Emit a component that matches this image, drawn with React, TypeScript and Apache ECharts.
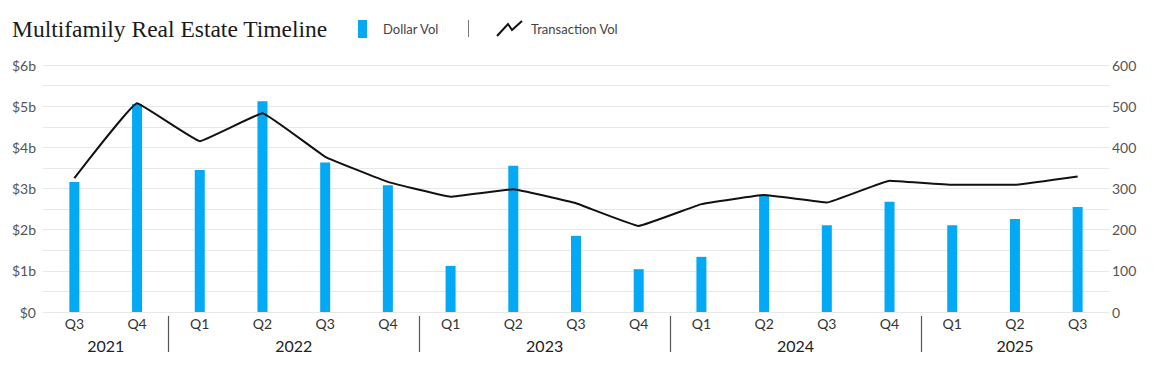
import React, { useEffect, useRef } from "react";
import * as echarts from "echarts";

// ---- data ----
const periods = [
  "2021 Q3", "2021 Q4",
  "2022 Q1", "2022 Q2", "2022 Q3", "2022 Q4",
  "2023 Q1", "2023 Q2", "2023 Q3", "2023 Q4",
  "2024 Q1", "2024 Q2", "2024 Q3", "2024 Q4",
  "2025 Q1", "2025 Q2", "2025 Q3",
];
// Dollar volume, billions of USD
const dollarVol = [3.16, 5.05, 3.45, 5.12, 3.63, 3.08, 1.12, 3.55, 1.85, 1.04, 1.34, 2.84, 2.11, 2.68, 2.11, 2.26, 2.55];
// Number of transactions
const transactionVol = [325, 507, 415, 483, 377, 316, 280, 298, 264, 209, 262, 284, 266, 319, 309, 309, 329];

const leftMax = 6;
const rightMax = 600;

const TITLE = "Multifamily Real Estate Timeline";
const SERIES_BAR = "Dollar Vol";
const SERIES_LINE = "Transaction Vol";

// year groups derived from periods
const yearGroups: { year: string; start: number; end: number }[] = [];
periods.forEach((p, i) => {
  const y = p.split(" ")[0];
  const last = yearGroups[yearGroups.length - 1];
  if (last && last.year === y) last.end = i;
  else yearGroups.push({ year: y, start: i, end: i });
});

const FONT = "Lato, 'Noto Sans', sans-serif";
const BLUE = "#03A9F4";

export default function App() {
  const ref = useRef<HTMLDivElement>(null);

  useEffect(() => {
    document.body.style.margin = "0";
    if (!ref.current) return;
    const chart = echarts.init(ref.current, undefined, { renderer: "svg" });

    const option: any = {
      animation: false,
      backgroundColor: "#ffffff",
      textStyle: { fontFamily: FONT },
      grid: { left: 43, right: 46, top: 65, bottom: 58, containLabel: false },
      graphic: [
        {
          type: "text",
          x: 12,
          y: 29,
          style: {
            text: TITLE,
            fill: "#1a1a1a",
            font: "normal 23.5px 'Liberation Serif', serif",
            verticalAlign: "middle",
          },
        },
        {
          type: "rect",
          shape: { x: 358, y: 20, width: 9, height: 18 },
          style: { fill: BLUE },
        },
        {
          type: "text",
          x: 383,
          y: 29,
          style: {
            text: SERIES_BAR,
            fill: "#444",
            font: `13px ${FONT}`,
            verticalAlign: "middle",
          },
        },
        {
          type: "line",
          shape: { x1: 468.5, y1: 20, x2: 468.5, y2: 37 },
          style: { stroke: "#777", lineWidth: 1 },
        },
        {
          type: "polyline",
          shape: { points: [[497, 36], [508, 24], [512, 30], [522, 21]] },
          style: { stroke: "#111", lineWidth: 2, fill: null },
        },
        {
          type: "text",
          x: 531,
          y: 29,
          style: {
            text: SERIES_LINE,
            fill: "#444",
            font: `13px ${FONT}`,
            verticalAlign: "middle",
          },
        },
      ],
      xAxis: [
        {
          type: "category",
          data: periods,
          boundaryGap: true,
          axisLine: { show: false },
          axisTick: { show: false },
          axisLabel: {
            margin: 4,
            color: "#333",
            fontSize: 14,
            fontFamily: FONT,
            interval: 0,
            formatter: (v: string) => v.split(" ")[1],
          },
          splitLine: { show: false },
        },
      ],
      yAxis: [
        {
          type: "value",
          min: 0,
          max: leftMax,
          interval: 0.5,
          axisLine: { show: false },
          axisTick: { show: false },
          axisLabel: {
            margin: 7,
            color: "#555",
            fontSize: 14,
            fontFamily: FONT,
            formatter: (v: number) =>
              Number.isInteger(v) ? (v === 0 ? "$0" : `$${v}b`) : "",
          },
          splitLine: { show: true, lineStyle: { color: "#e8e8e8", width: 1 } },
        },
        {
          type: "value",
          min: 0,
          max: rightMax,
          interval: 50,
          position: "right",
          axisLine: { show: false },
          axisTick: { show: false },
          axisLabel: {
            margin: 3,
            color: "#555",
            fontSize: 14,
            fontFamily: FONT,
            formatter: (v: number) => (v % 100 === 0 ? String(v) : ""),
          },
          splitLine: { show: false },
        },
      ],
      series: [
        {
          name: SERIES_BAR,
          type: "bar",
          xAxisIndex: 0,
          yAxisIndex: 0,
          data: dollarVol,
          barWidth: 10,
          itemStyle: { color: BLUE },
          z: 2,
        },
        {
          name: SERIES_LINE,
          type: "line",
          xAxisIndex: 0,
          yAxisIndex: 1,
          data: transactionVol,
          smooth: 0.07,
          symbol: "none",
          lineStyle: { color: "#111", width: 2 },
          z: 3,
        },
        {
          name: "years",
          type: "custom",
          xAxisIndex: 0,
          yAxisIndex: 0,
          clip: false,
          silent: true,
          encode: { x: [0, 1], y: 2 },
          data: yearGroups.map((g) => [g.start, g.end, 0]),
          renderItem: (params: any, api: any) => {
            const s = api.value(0);
            const e = api.value(1);
            const p0 = api.coord([s, 0]);
            const p1 = api.coord([e, 0]);
            const band = api.size([1, 0])[0];
            const cx = (p0[0] + p1[0]) / 2;
            const y0 = p0[1];
            const children: any[] = [
              {
                type: "text",
                x: cx,
                y: y0 + 33,
                style: {
                  text: yearGroups[params.dataIndex].year,
                  fill: "#222",
                  font: `16px ${FONT}`,
                  align: "center",
                  verticalAlign: "middle",
                },
              },
            ];
            if (params.dataIndex > 0) {
              const bx = Math.round(p0[0] - band / 2) + 0.5;
              children.push({
                type: "line",
                shape: { x1: bx, y1: y0 + 4, x2: bx, y2: y0 + 40 },
                style: { stroke: "#555", lineWidth: 1.2 },
              });
            }
            return { type: "group", children };
          },
          z: 5,
        },
      ],
    };

    chart.setOption(option);
    return () => chart.dispose();
  }, []);

  return <div ref={ref} style={{ width: 1155, height: 370 }} />;
}
